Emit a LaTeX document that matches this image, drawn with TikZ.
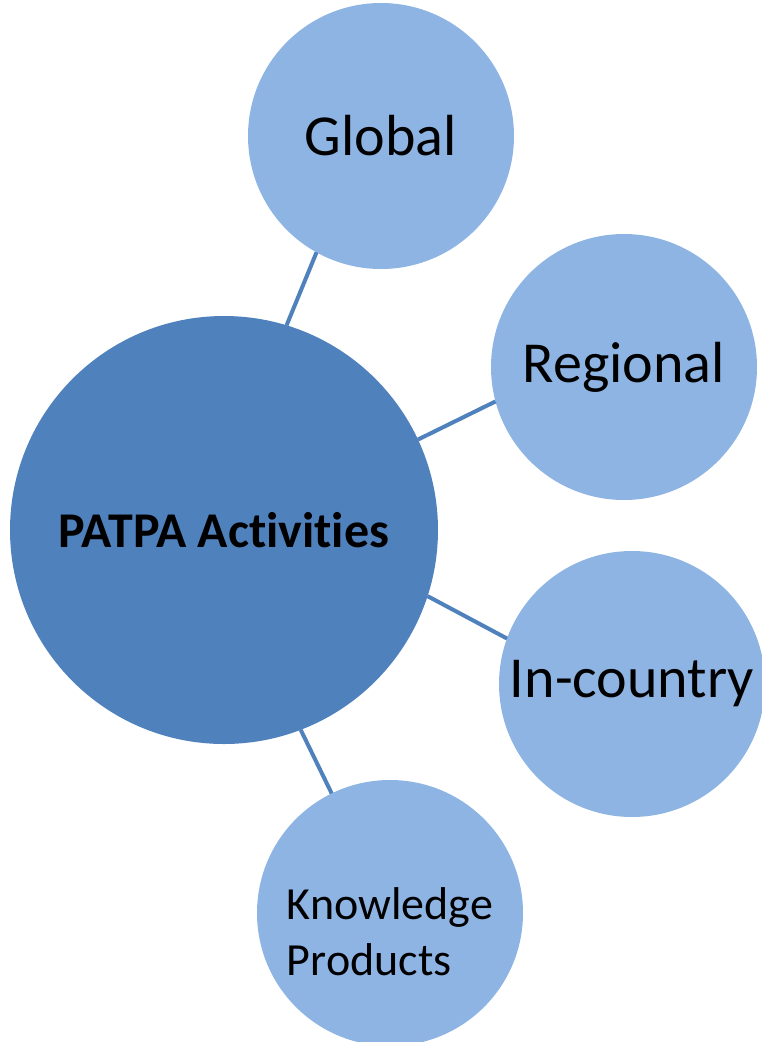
\documentclass[tikz,border=0pt]{standalone}
\usepackage{fontspec}
\setmainfont{Carlito}[Ligatures=NoCommon]
\definecolor{hubblue}{HTML}{4F81BD}
\definecolor{leafblue}{HTML}{8EB4E3}

\begin{document}
\begin{tikzpicture}[x=1pt,y=-1pt,
  hub/.style={circle,fill=hubblue,minimum size=428pt,inner sep=0pt,outer sep=0pt,font=\fontsize{50}{60}\selectfont\bfseries},
  leaf/.style={circle,fill=leafblue,minimum size=266pt,inner sep=0pt,outer sep=0pt,font=\fontsize{58}{70}\selectfont},
  link/.style={draw=hubblue,line width=4pt}]
  \useasboundingbox (0,0) rectangle (762,1042);
  \node[hub] (hub) at (224,530) {PATPA Activities};
  \node[leaf] (glob) at (381,136) {Global};
  \node[leaf] (regn) at (624,367) {Regional};
  \node[leaf] (ctry) at (632,684) {In-country};
  \node[leaf] (know) at (390,913) {};
  \node[font=\fontsize{46}{56}\selectfont,align=left] (knowtxt) at (390,932) {Knowledge\\Products};
  % spokes
  \draw[link] (hub.73.7) -- (glob.241.3);
  \draw[link] (hub.25.5) -- (regn.195.3);
  \draw[link] (hub.-18.4) -- (ctry.160.2);
  \draw[link] (hub.-69) -- (know.116.6);
\end{tikzpicture}
\end{document}
